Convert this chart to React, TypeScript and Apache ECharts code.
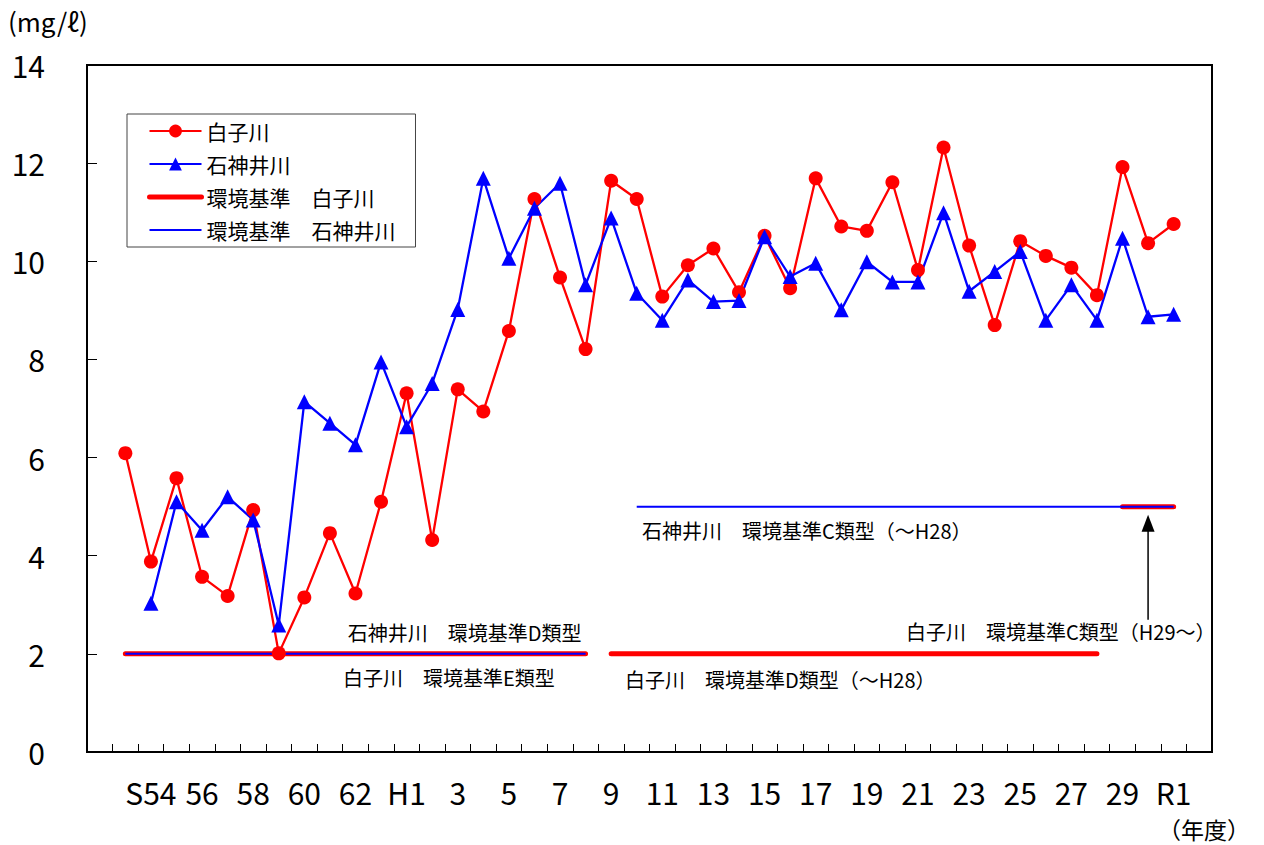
import React, { useEffect, useRef } from "react";
import * as echarts from "echarts";

const FONT = "'Noto Sans CJK JP', 'Noto Sans', sans-serif";

// fiscal years on the category axis (S52 and R2 are empty padding bands)
const fiscalYears = [
  "S52", "S53", "S54", "S55", "S56", "S57", "S58", "S59", "S60", "S61", "S62", "S63",
  "H1", "H2", "H3", "H4", "H5", "H6", "H7", "H8", "H9", "H10", "H11", "H12", "H13", "H14",
  "H15", "H16", "H17", "H18", "H19", "H20", "H21", "H22", "H23", "H24", "H25", "H26", "H27",
  "H28", "H29", "H30", "R1", "R2",
];

// tick labels shown every other year
const labeledYears = ["S54", "S56", "S58", "S60", "S62", "H1", "H3", "H5", "H7", "H9", "H11", "H13", "H15", "H17", "H19", "H21", "H23", "H25", "H27", "H29", "R1"];
const tickLabels = ["S54", "56", "58", "60", "62", "H1", "3", "5", "7", "9", "11", "13", "15", "17", "19", "21", "23", "25", "27", "29", "R1"];

// 白子川 DO (mg/ℓ), S53 .. R1
const shirakoStart = "S53";
const shirakoDO = [
  6.09, 3.88, 5.58, 3.57, 3.18, 4.93, 2.01, 3.15, 4.46, 3.23, 5.1, 7.31, 4.32, 7.39, 6.94,
  8.58, 11.27, 9.67, 8.21, 11.64, 11.27, 9.28, 9.92, 10.26, 9.37, 10.52, 9.45, 11.69, 10.71,
  10.62, 11.61, 9.82, 12.32, 10.32, 8.7, 10.41, 10.11, 9.87, 9.31, 11.92, 10.37, 10.76,
];

// 石神井川 DO (mg/ℓ), S54 .. R1
const shakujiiStart = "S54";
const shakujiiDO = [
  3.03, 5.1, 4.52, 5.2, 4.73, 2.59, 7.14, 6.7, 6.26, 7.95, 6.63, 7.51, 9.02, 11.69, 10.06,
  11.08, 11.59, 9.52, 10.88, 9.35, 8.8, 9.62, 9.18, 9.2, 10.5, 9.69, 9.96, 9.01, 9.99, 9.58,
  9.58, 10.99, 9.39, 9.79, 10.2, 8.8, 9.52, 8.8, 10.47, 8.87, 8.92,
];

// environmental standards (lower limit of DO)
const shirakoStandard = [
  { from: "S53", to: "H8", value: 2 },
  { from: "H9", to: "H28", value: 2 },
  { from: "H29", to: "R1", value: 5 },
];
const shakujiiStandard = [
  { from: "S53", to: "H8", value: 2 },
  { from: "H10", to: "R1", value: 5 },
];

const seriesNames = ["白子川", "石神井川", "環境基準　白子川", "環境基準　石神井川"];

function placeSeries(start: string, values: number[]) {
  const arr: (number | null)[] = fiscalYears.map(() => null);
  const s = fiscalYears.indexOf(start);
  values.forEach((v, i) => (arr[s + i] = v));
  return arr;
}

function segmentData(seg: { from: string; to: string; value: number }) {
  const a = fiscalYears.indexOf(seg.from);
  const b = fiscalYears.indexOf(seg.to);
  return fiscalYears.map((_, i) => (i >= a && i <= b ? seg.value : null));
}

export default function App() {
  const ref = useRef<HTMLDivElement>(null);

  useEffect(() => {
    if (!ref.current) return;
    const chart = echarts.init(ref.current, null, { renderer: "svg" });

    const stdSeries: any[] = [];
    shirakoStandard.forEach((seg) =>
      stdSeries.push({
        name: seriesNames[2],
        type: "line",
        data: segmentData(seg),
        symbol: "none",
        itemStyle: { color: "#ff0000" },
        lineStyle: { color: "#ff0000", width: 5, cap: "round" },
      })
    );
    shakujiiStandard.forEach((seg) =>
      stdSeries.push({
        name: seriesNames[3],
        type: "line",
        data: segmentData(seg),
        symbol: "none",
        itemStyle: { color: "#0000ff" },
        lineStyle: { color: "#0000ff", width: 2 },
      })
    );

    chart.setOption({
      animation: false,
      backgroundColor: "#fff",
      textStyle: { fontFamily: FONT },
      grid: {
        left: 87,
        right: 52,
        top: 65,
        bottom: 93,
        show: true,
        borderColor: "#000",
        borderWidth: 2,
        backgroundColor: "transparent",
      },
      legend: {
        data: [
          { name: seriesNames[0] },
          { name: seriesNames[1] },
          { name: seriesNames[2], itemStyle: { opacity: 0 }, lineStyle: { width: 5, cap: "round" } },
          { name: seriesNames[3], itemStyle: { opacity: 0 }, lineStyle: { width: 2 } },
        ],
        orient: "vertical",
        left: 127,
        top: 114,
        backgroundColor: "#fff",
        borderColor: "#444",
        borderWidth: 1,
        padding: [6, 20, 6, 20],
        itemWidth: 52,
        itemHeight: 16,
        itemGap: 11,
        textStyle: { fontSize: 21, lineHeight: 22, color: "#000", fontFamily: FONT },
      },
      xAxis: {
        type: "category",
        data: fiscalYears,
        boundaryGap: true,
        axisLine: { show: true, lineStyle: { color: "#000", width: 2 } },
        axisTick: { show: true, inside: true, length: 8, interval: 0, lineStyle: { color: "#000", width: 1 } },
        axisLabel: {
          interval: (index: number) => labeledYears.indexOf(fiscalYears[index]) >= 0,
          formatter: (value: string) => {
            const k = labeledYears.indexOf(value);
            return k >= 0 ? tickLabels[k] : "";
          },
          fontSize: 30,
          lineHeight: 26,
          color: "#000",
          margin: 27,
          fontFamily: FONT,
        },
        splitLine: { show: false },
      },
      yAxis: {
        type: "value",
        min: 0,
        max: 14,
        interval: 2,
        axisLine: { show: true, lineStyle: { color: "#000", width: 2 } },
        axisTick: { show: true, inside: true, length: 10, lineStyle: { color: "#000", width: 1 } },
        axisLabel: { fontSize: 30, color: "#000", margin: 42, fontFamily: FONT },
        splitLine: { show: false },
      },
      series: [
        ...stdSeries,
        {
          name: seriesNames[0],
          type: "line",
          data: placeSeries(shirakoStart, shirakoDO),
          symbol: "circle",
          symbolSize: 14,
          itemStyle: { color: "#ff0000" },
          lineStyle: { color: "#ff0000", width: 2.3 },
        },
        {
          name: seriesNames[1],
          type: "line",
          data: placeSeries(shakujiiStart, shakujiiDO),
          symbol: "triangle",
          symbolSize: 15,
          itemStyle: { color: "#0000ff" },
          lineStyle: { color: "#0000ff", width: 2.3 },
        },
      ],
    });

    const px = (year: string, v: number) =>
      chart.convertToPixel({ xAxisIndex: 0, yAxisIndex: 0 }, [fiscalYears.indexOf(year), v]) as number[];

    const y2 = px("S53", 2)[1];
    const y5 = px("S53", 5)[1];
    const endD = px("H8", 2)[0];
    const arrowX = px("H30", 5)[0];
    const txt = (text: string, x: number, y: number, align: string = "left") => ({
      type: "text",
      x,
      y,
      style: {
        text,
        fontSize: 20,
        fontFamily: FONT,
        fill: "#000",
        align,
        verticalAlign: "middle",
      },
    });

    chart.setOption({
      graphic: [
        {
          type: "text",
          left: 8,
          top: 7,
          style: { text: "(mg/ℓ)", fontSize: 26, fontFamily: FONT, fill: "#000" },
        },
        {
          type: "text",
          left: 1158,
          top: 817,
          style: { text: "（年度）", fontSize: 23, fontFamily: FONT, fill: "#000" },
        },
        txt("石神井川　環境基準D類型", endD - 4, y2 - 21, "right"),
        txt("白子川　環境基準E類型", 343, y2 + 24),
        txt("白子川　環境基準D類型（～H28）", 625, y2 + 26),
        txt("石神井川　環境基準C類型（～H28）", 642, y5 + 24),
        txt("白子川　環境基準C類型（H29～）", 906, y2 - 22),
        {
          type: "line",
          shape: { x1: arrowX, y1: y2 - 34, x2: arrowX, y2: y5 + 20 },
          style: { stroke: "#000", lineWidth: 1.5 },
        },
        {
          type: "polygon",
          shape: {
            points: [
              [arrowX, y5 + 8],
              [arrowX - 6.5, y5 + 25],
              [arrowX + 6.5, y5 + 25],
            ],
          },
          style: { fill: "#000" },
        },
      ],
    });

    return () => chart.dispose();
  }, []);

  return (
    <div
      ref={ref}
      style={{ position: "absolute", left: 0, top: 0, width: 1264, height: 845, background: "#fff" }}
    />
  );
}
